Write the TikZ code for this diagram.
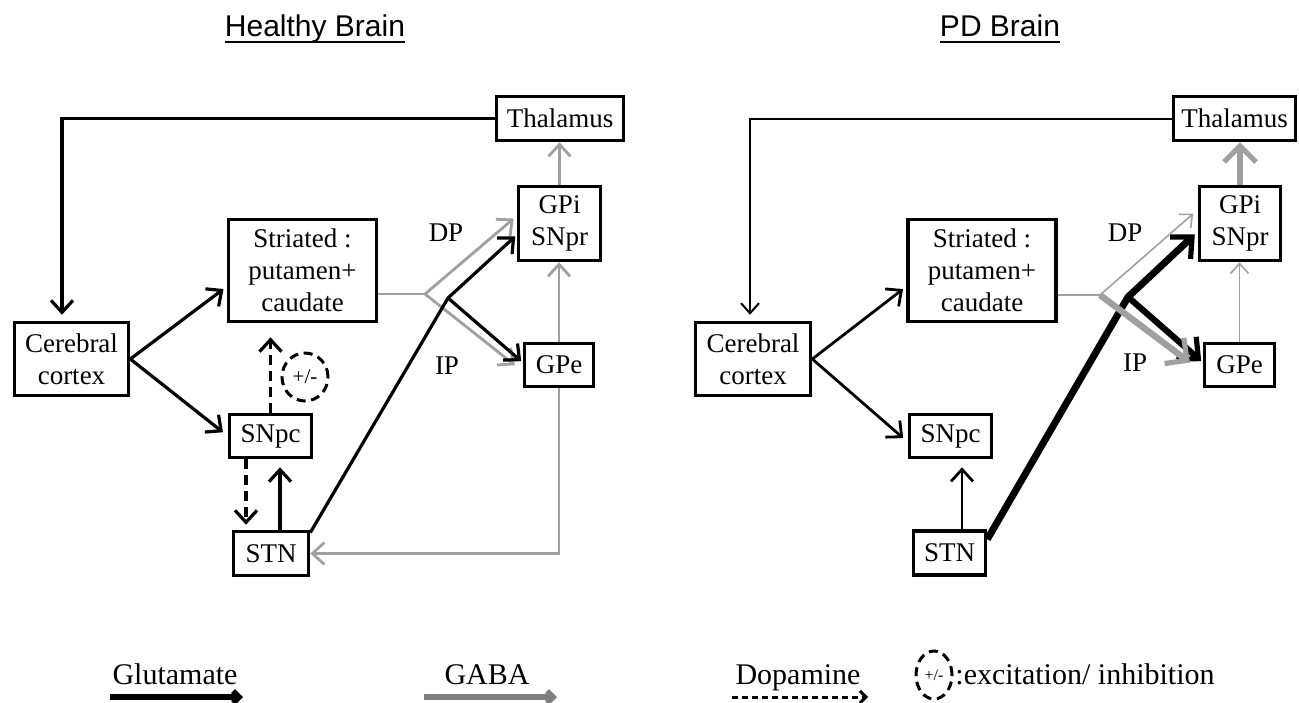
\documentclass[tikz,border=0pt]{standalone}
\usepackage{fontspec}
\setmainfont{Liberation Serif}
\setsansfont{Liberation Sans}
\usetikzlibrary{arrows.meta,positioning,shapes.geometric}
\definecolor{gabagray}{HTML}{A0A0A0}
\definecolor{keygray}{HTML}{7F7F7F}
\tikzset{
  every node/.style={font=\fontsize{13.5}{16}\selectfont},
  box/.style={draw,line width=1.8pt,align=center,inner sep=0pt},
  glu/.style={-{Straight Barb[length=6pt,width=11pt]},line width=1.6pt},
  gaba/.style={-{Straight Barb[length=6pt,width=11pt]},draw=gabagray,line width=1.4pt},
  gabaline/.style={draw=gabagray,line width=1.4pt},
  dopa/.style={glu,dash pattern=on 5pt off 3pt},
  thinglu/.style={-{Straight Barb[length=5pt,width=9pt]},line width=1pt},
  thingaba/.style={-{Straight Barb[length=5pt,width=9pt]},draw=gabagray,line width=0.8pt},
  fatglu/.style={-{Straight Barb[length=8pt,width=15pt,line width=2.6pt]},line width=3.5pt},
  fatgaba/.style={-{Straight Barb[length=8pt,width=16pt,line width=2.6pt]},draw=gabagray,line width=3.2pt},
  lab/.style={inner sep=0pt},
  ttl/.style={font=\sffamily\fontsize{15}{18}\selectfont,inner sep=0pt,anchor=base},
  pm/.style={ellipse,draw,line width=1.5pt,dash pattern=on 4.5pt off 2.8pt,
             minimum width=23pt,minimum height=24pt,inner sep=0pt,
             font=\fontsize{10.5}{12}\selectfont},
  leg/.style={font=\fontsize{15}{18}\selectfont,inner sep=0pt,anchor=base},
  keybar/.style={-{Straight Barb[length=3pt,width=6pt]},line width=2.8pt},
}

\begin{document}
\begin{tikzpicture}[x=0.5pt,y=-0.5pt]
\useasboundingbox (0,0) rectangle (1299,702);

% ---- titles ----
\node[ttl] (ttlA) at (315,36) {Healthy Brain};
\node[ttl] (ttlB) at (1000,36) {PD Brain};
\draw[line width=0.9pt] ([yshift=-3pt]ttlA.base west) -- ([yshift=-3pt]ttlA.base east);
\draw[line width=0.9pt] ([yshift=-3pt]ttlB.base west) -- ([yshift=-3pt]ttlB.base east);

% ---- healthy brain ----
\node[box,minimum width=63.5pt,minimum height=22pt] (thalA) at (560,118.5) {Thalamus};
\node[box,minimum width=41pt,minimum height=37pt] (gpiA) at (559.5,223.5) {GPi\\SNpr};
\node[box,minimum width=74pt,minimum height=51pt] (strA) at (302.5,270.5) {Striated :\\putamen+\\caudate};
\node[box,minimum width=57pt,minimum height=36.5pt] (ctxA) at (71.5,359) {Cerebral\\cortex};
\node[box,minimum width=41pt,minimum height=21.5pt] (snpcA) at (270.5,436) {SNpc};
\node[box,minimum width=37.5pt,minimum height=22pt] (stnA) at (271,553.5) {STN};
\node[box,minimum width=34.5pt,minimum height=21.5pt] (gpeA) at (559,365) {GPe};
\node[pm] (pmA) at (305,377) {+/-};
\node[lab] (dpA) at (446,233) {DP};
\node[lab] (ipA) at (447,366) {IP};

\draw[glu,shorten >=3pt] (thalA.west) -| ([xshift=-4.75pt]ctxA.north);
\draw[glu,shorten >=2pt] (ctxA.east) -- (strA.192);
\draw[glu,shorten >=3pt] (ctxA.east) -- (snpcA.west);
\draw[dopa,shorten >=7pt] (snpcA.north) -- (snpcA.north |- strA.south);
\draw[dopa,shorten >=2.5pt] ([xshift=-12.25pt]snpcA.south) -- ([xshift=-12.25pt]snpcA.south |- stnA.north);
\draw[glu,shorten >=4pt] ([xshift=4.5pt]stnA.north) -- ([xshift=4.5pt]stnA.north |- snpcA.south);

\coordinate (forkA) at (425,294);
\draw[gabaline] (strA.east |- forkA) -- (forkA);
\draw[gaba,shorten >=2pt] (forkA) -- (gpiA.170);
\draw[gaba,shorten >=5pt] (forkA) -- (gpeA.190);
\draw[gaba] (gpeA.north) -- (gpeA.north |- gpiA.south);
\draw[gaba] (gpiA.north) -- (gpiA.north |- thalA.south);
\draw[gaba] (gpeA.south) |- (stnA.east);

\coordinate (kinkA) at (448,298);
\draw[glu,shorten >=1pt] (stnA.28) -- (kinkA) -- (gpiA.195);
\draw[glu,shorten >=1pt] (kinkA) -- (gpeA.176);

% ---- PD brain ----
\node[box,minimum width=61pt,minimum height=22pt] (thalB) at (1234.5,118.5) {Thalamus};
\node[box,minimum width=40.5pt,minimum height=37pt] (gpiB) at (1240,223.5) {GPi\\SNpr};
\node[box,minimum width=74pt,minimum height=51pt] (strB) at (982,270.5) {Striated :\\putamen+\\caudate};
\node[box,minimum width=57.5pt,minimum height=36.5pt] (ctxB) at (753,359) {Cerebral\\cortex};
\node[box,minimum width=41pt,minimum height=21.5pt] (snpcB) at (950.5,436) {SNpc};
\node[box,minimum width=36pt,minimum height=22pt] (stnB) at (949.5,553) {STN};
\node[box,minimum width=35pt,minimum height=21.5pt] (gpeB) at (1239.5,365) {GPe};
\node[lab] (dpB) at (1125,233) {DP};
\node[lab] (ipB) at (1135,363) {IP};

\draw[thinglu,shorten >=3pt] (thalB.west) -| ([xshift=-1.5pt]ctxB.north);
\draw[glu,line width=1.4pt,shorten >=2pt] (ctxB.east) -- (strB.192);
\draw[glu,line width=1.4pt,shorten >=3pt] (ctxB.east) -- (snpcB.188);
\draw[glu,line width=1.4pt,shorten >=4pt] ([xshift=6.25pt]stnB.north) -- ([xshift=6.25pt]stnB.north |- snpcB.south);

\coordinate (kinkB) at (1128,297);
\draw[fatglu,shorten >=2pt] (stnB.20) -- (kinkB) -- (gpiB.191);
\draw[fatglu,line width=3.1pt,shorten >=1pt] (kinkB) -- (gpeB.176);

\coordinate (forkB) at (1100,295);
\draw[gabaline] (strB.east |- forkB) -- (forkB);
\draw[thingaba,shorten >=3pt] (forkB) -- (gpiB.162);
\draw[fatgaba,shorten >=8pt] (forkB) -- (gpeB.191);
\draw[thingaba] (gpeB.north) -- (gpeB.north |- gpiB.south);
\draw[fatgaba] (gpiB.north) -- (gpiB.north |- thalB.south);

% ---- key ----
\node[leg] (kglu) at (175,684) {Glutamate};
\node[leg] (kgaba) at (487,684) {GABA};
\node[leg] (kdopa) at (798,684) {Dopamine};
\node[pm,minimum width=18pt,minimum height=24pt,font=\fontsize{8}{10}\selectfont] (kpm) at (934,675) {+/-};
\node[leg,anchor=base west] (kexc) at (955,684) {:excitation/ inhibition};
\draw[keybar] (110,697) -- (243,697);
\draw[keybar,draw=keygray] (424,697) -- (557,697);
\draw[keybar,line width=1.5pt,dash pattern=on 3pt off 2pt] (732,697) -- (868,697);

\end{tikzpicture}
\end{document}
